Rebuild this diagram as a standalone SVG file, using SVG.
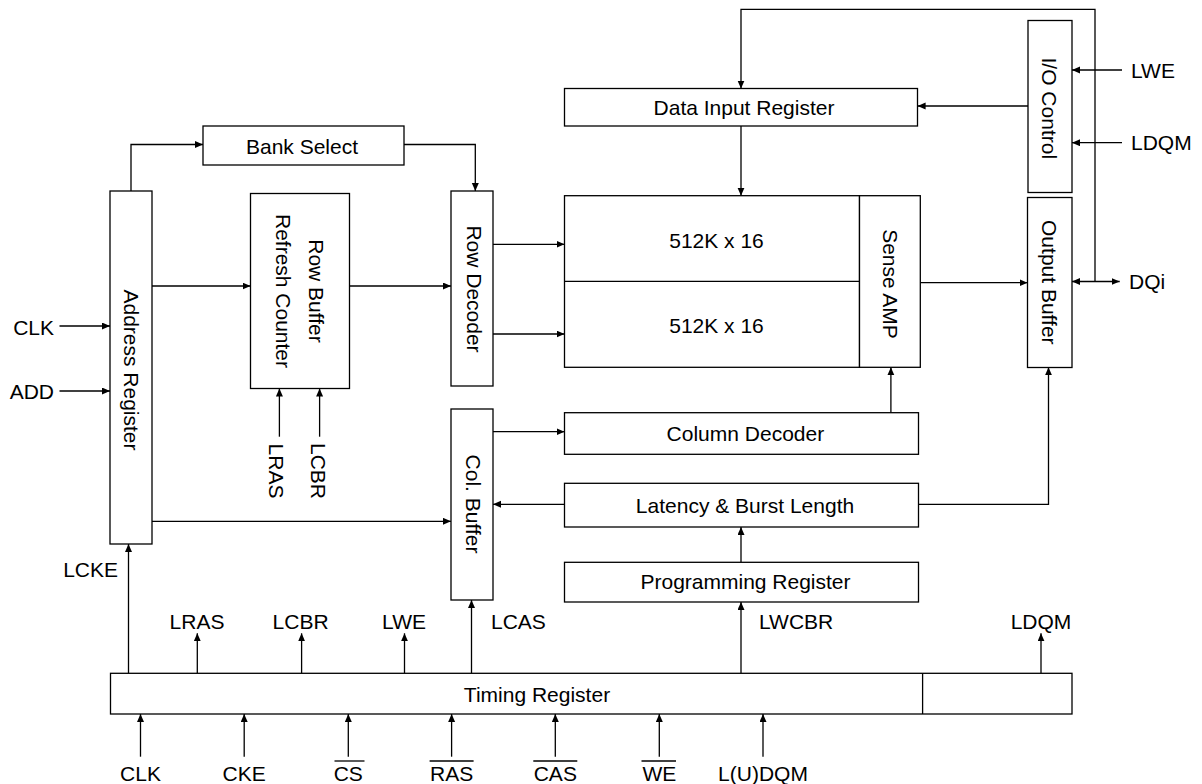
<svg xmlns="http://www.w3.org/2000/svg" width="1202" height="784" viewBox="0 0 1202 784">
<style>
.b{fill:#fff;stroke:#000;stroke-width:1.3}
.c{fill:none;stroke:#000;stroke-width:1.3;marker-end:url(#ah)}
.n{fill:none;stroke:#000;stroke-width:1.3}
text{font-family:"Liberation Sans",Arial,Helvetica,sans-serif;font-size:21px;fill:#000}
.m{text-anchor:middle}
.e{text-anchor:end}
</style>
<defs>
<marker id="ah" markerUnits="userSpaceOnUse" markerWidth="9" markerHeight="8" refX="8" refY="3.5" orient="auto-start-reverse" viewBox="0 0 9 8">
<path d="M0,0 L8,3.5 L0,7 z" fill="#000"/>
</marker>
</defs>
<rect width="1202" height="784" fill="#fff"/>
<g id="connectors">
<path class="c" d="M131,191 V144.5 H203"/>
<path class="c" d="M404,144.5 H475.3 V191"/>
<path class="c" d="M152,286 H250.5"/>
<path class="c" d="M349.5,286 H451"/>
<path class="c" d="M493,244.3 H564.5"/>
<path class="c" d="M493,334 H564.5"/>
<path class="c" d="M1095,281.5 V9.3 H741 V88.5"/>
<path class="c" d="M1028,106 H917.6"/>
<path class="c" d="M741,126 V195.7"/>
<path class="c" d="M1122,70 H1072"/>
<path class="c" d="M1122,142.7 H1072"/>
<path class="c" d="M920.3,282.7 H1027.5"/>
<path class="c" d="M1072,281.5 H1119.7" marker-start="url(#ah)"/>
<path class="c" d="M59.5,326 H110"/>
<path class="c" d="M59.5,391 H110"/>
<path class="c" d="M279.4,436.7 V388.5"/>
<path class="c" d="M319.6,436.7 V388.5"/>
<path class="c" d="M493,431.7 H564.5"/>
<path class="c" d="M564.5,504.3 H493"/>
<path class="c" d="M152,521.3 H451"/>
<path class="c" d="M890.9,412.7 V367.3"/>
<path class="c" d="M918.4,504.3 H1048.5 V367.3"/>
<path class="c" d="M741,562.3 V527"/>
<path class="c" d="M741,673.3 V602"/>
<path class="c" d="M471.5,673.3 V600"/>
<path class="c" d="M128.5,673.3 V544"/>
<path class="c" d="M197.3,673.3 V633.3"/>
<path class="c" d="M301.6,673.3 V633.3"/>
<path class="c" d="M404.5,673.3 V633.3"/>
<path class="c" d="M1041,673.3 V633.3"/>
<path class="c" d="M140.5,756.7 V714"/>
<path class="c" d="M244.2,756.7 V714"/>
<path class="c" d="M348.3,756.7 V714"/>
<path class="c" d="M451.6,756.7 V714"/>
<path class="c" d="M555.3,756.7 V714"/>
<path class="c" d="M659.3,756.7 V714"/>
<path class="c" d="M763,756.7 V714"/>
</g>
<g id="address-register">
<rect class="b" x="110" y="191" width="42" height="353"/>
<text class="m" transform="translate(131,370) rotate(90)" y="7.5">Address Register</text>
</g>
<g id="bank-select">
<rect class="b" x="203" y="126" width="201" height="39"/>
<text class="m" x="302" y="153.5">Bank Select</text>
</g>
<g id="row-buffer">
<rect class="b" x="250.5" y="193.5" width="99" height="195"/>
<text class="m" transform="translate(316.7,291) rotate(90)" y="7.5">Row Buffer</text>
<text class="m" transform="translate(283.3,291) rotate(90)" y="7.5">Refresh Counter</text>
</g>
<g id="row-decoder">
<rect class="b" x="451" y="191" width="42" height="195"/>
<text class="m" transform="translate(474,289) rotate(90)" y="7.5">Row Decoder</text>
</g>
<g id="col-buffer">
<rect class="b" x="451" y="409" width="42" height="191"/>
<text class="m" transform="translate(473.8,504) rotate(90)" y="7.5">Col. Buffer</text>
</g>
<g id="data-input-register">
<rect class="b" x="564.5" y="88.5" width="353" height="37.5"/>
<text class="m" x="744" y="115">Data Input Register</text>
</g>
<g id="memory-array">
<rect class="b" x="564.5" y="195.7" width="295" height="171.6"/>
<line class="n" x1="564.5" y1="281.3" x2="859.5" y2="281.3"/>
<text class="m" x="716.5" y="248.3">512K x 16</text>
<text class="m" x="716.5" y="332.7">512K x 16</text>
</g>
<g id="sense-amp">
<rect class="b" x="859.5" y="195.7" width="60.8" height="171.6"/>
<text class="m" transform="translate(890.8,284) rotate(90)" y="7.5">Sense AMP</text>
</g>
<g id="io-control">
<rect class="b" x="1028" y="20.5" width="44" height="172"/>
<text class="m" transform="translate(1049.6,108.3) rotate(90)" y="7.5">I/O Control</text>
</g>
<g id="output-buffer">
<rect class="b" x="1027.5" y="197.5" width="44.5" height="170"/>
<text class="m" transform="translate(1049.6,282.3) rotate(90)" y="7.5">Output Buffer</text>
</g>
<g id="column-decoder">
<rect class="b" x="564.5" y="412.7" width="354" height="41.6"/>
<text class="m" x="745.4" y="441.3">Column Decoder</text>
</g>
<g id="latency-burst">
<rect class="b" x="564.5" y="483.3" width="354" height="43.7"/>
<text class="m" x="745" y="512.8">Latency &amp; Burst Length</text>
</g>
<g id="programming-register">
<rect class="b" x="564.5" y="562.3" width="354" height="39.7"/>
<text class="m" x="745.5" y="589">Programming Register</text>
</g>
<g id="timing-register">
<rect class="b" x="110.5" y="673.3" width="961.5" height="40.7"/>
<line class="n" x1="922.6" y1="673.3" x2="922.6" y2="714"/>
<text class="m" x="537" y="701.5">Timing Register</text>
</g>
<g id="labels">
<text class="e" x="54" y="335">CLK</text>
<text class="e" x="54" y="399.3">ADD</text>
<text x="1131" y="77.5">LWE</text>
<text x="1131" y="150.2">LDQM</text>
<text x="1129" y="289">DQi</text>
<text class="m" transform="translate(276.5,471) rotate(90)" y="7.5">LRAS</text>
<text class="m" transform="translate(318.6,471) rotate(90)" y="7.5">LCBR</text>
<text class="e" x="118" y="577">LCKE</text>
<text class="m" x="197" y="629">LRAS</text>
<text class="m" x="300.6" y="629">LCBR</text>
<text class="m" x="404" y="629">LWE</text>
<text x="491" y="629">LCAS</text>
<text x="759" y="629">LWCBR</text>
<text class="m" x="1041" y="629">LDQM</text>
<text class="m" x="140.5" y="781">CLK</text>
<text class="m" x="244.2" y="781">CKE</text>
<text class="m" x="348.3" y="781">CS</text>
<text class="m" x="451.6" y="781">RAS</text>
<text class="m" x="555.3" y="781">CAS</text>
<text class="m" x="659.3" y="781">WE</text>
<text class="m" x="763" y="781">L(U)DQM</text>
<line class="n" x1="334.5" y1="761" x2="364.5" y2="761" stroke-width="1.6"/>
<line class="n" x1="429.6" y1="761" x2="473.6" y2="761" stroke-width="1.6"/>
<line class="n" x1="533.3" y1="761" x2="577.3" y2="761" stroke-width="1.6"/>
<line class="n" x1="641.5" y1="761" x2="676" y2="761" stroke-width="1.6"/>
</g>
</svg>
